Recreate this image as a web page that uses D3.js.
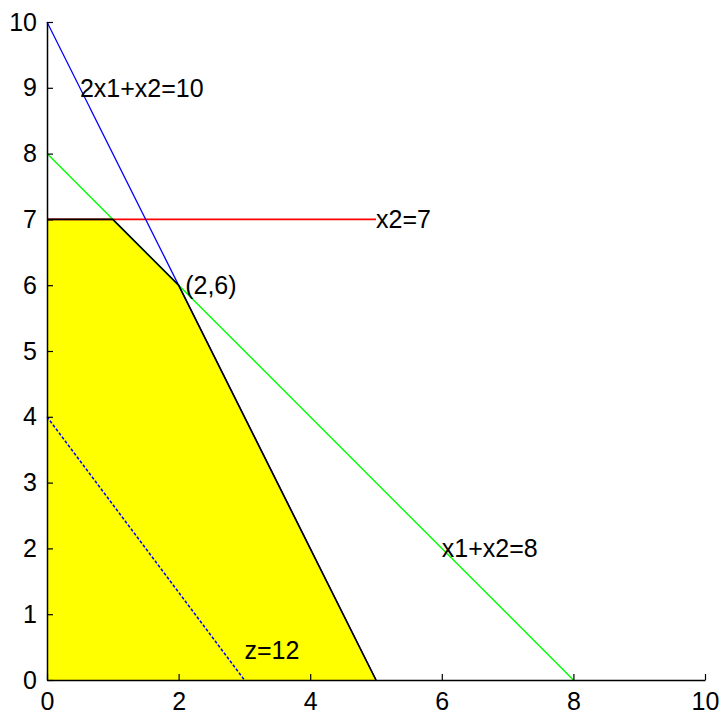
<!DOCTYPE html>
<html>
<head>
<meta charset="utf-8">
<script src="https://cdn.jsdelivr.net/npm/d3@7"></script>
<style>
  body { margin: 0; background: #fff; }
  text { font-family: "Liberation Sans", Arial, sans-serif; }
</style>
</head>
<body>
<div id="svgWrapper"></div>
<script>
// data
var xTicks = [0, 2, 4, 6, 8, 10];
var yTicks = [0, 1, 2, 3, 4, 5, 6, 7, 8, 9, 10];

// feasible region corners (x1, x2)
var region = [[0, 0], [0, 7], [1, 7], [2, 6], [5, 0]];

// constraint lines, endpoints
var lineRed   = [[0, 7], [5, 7]];      // x2 = 7
var lineGreen = [[0, 8], [8, 0]];      // x1 + x2 = 8
var lineBlue  = [[0, 10], [5, 0]];     // 2x1 + x2 = 10
var lineZ     = [[0, 4], [3, 0]];      // z = 12

// text labels
var labels = [
  {text: "2x1+x2=10", x: 0.5, y: 9},
  {text: "x2=7", x: 5, y: 7},
  {text: "(2,6)", x: 2.1, y: 6},
  {text: "x1+x2=8", x: 6, y: 2},
  {text: "z=12", x: 3, y: 0.45}
];

var fullWidth = 720, fullHeight = 714;
var padLeft = 47, padRight = 15, padTop = 22, padBottom = 34;

var svg = d3.select("#svgWrapper")
  .append("svg")
  .attr("width", fullWidth)
  .attr("height", fullHeight);

var xScale = d3.scaleLinear().domain([0, 10]).range([padLeft, fullWidth - padRight]);
var yScale = d3.scaleLinear().domain([0, 10]).range([fullHeight - padBottom, padTop]);

var line = d3.line()
  .x(function(d) { return xScale(d[0]); })
  .y(function(d) { return yScale(d[1]); });

// yellow region
svg.append("path")
  .attr("d", line(region) + "Z")
  .attr("fill", "#ffff00")
  .attr("stroke", "none");

// constraint lines
svg.append("path").attr("d", line(lineRed)).attr("stroke", "#ff0000").attr("stroke-width", 1.8).attr("fill", "none");
svg.append("path").attr("d", line(lineGreen)).attr("stroke", "#00ff00").attr("stroke-width", 1.4).attr("fill", "none");
svg.append("path").attr("d", line(lineBlue)).attr("stroke", "#0000ff").attr("stroke-width", 1.3).attr("fill", "none");
svg.append("path").attr("d", line(lineZ))
  .attr("stroke", "#0000ff").attr("stroke-width", 1.5)
  .attr("stroke-dasharray", "3,2").attr("fill", "none");

// black outline of the region
svg.append("path")
  .attr("d", line(region.slice(1)))
  .attr("fill", "none")
  .attr("stroke", "#000")
  .attr("stroke-width", 1.6);

// axes, ticks pointing inward
var xAxis = svg.append("g")
  .attr("transform", "translate(0," + yScale(0) + ")")
  .call(d3.axisBottom(xScale).tickValues(xTicks).tickSizeInner(-6).tickSizeOuter(0).tickPadding(12).tickFormat(d3.format("d")));
var yAxis = svg.append("g")
  .attr("transform", "translate(" + xScale(0) + ",0)")
  .call(d3.axisLeft(yScale).tickValues(yTicks).tickSizeInner(-6).tickSizeOuter(0).tickPadding(10).tickFormat(d3.format("d")));

[xAxis, yAxis].forEach(function(a) {
  a.select(".domain").attr("stroke", "#000").attr("stroke-width", 1.5);
  a.selectAll(".tick line").attr("stroke", "#000").attr("stroke-width", 1.2);
  a.selectAll("text").attr("font-size", 25).attr("fill", "#000")
    .attr("font-family", "Liberation Sans, Arial, sans-serif");
});
xAxis.selectAll("text").attr("dy", "0.71em");

// labels
svg.selectAll("text.lab")
  .data(labels)
  .enter().append("text")
  .attr("class", "lab")
  .attr("x", function(d) { return xScale(d.x); })
  .attr("y", function(d) { return yScale(d.y); })
  .attr("dy", "0.35em")
  .attr("font-size", 25)
  .attr("fill", "#000")
  .text(function(d) { return d.text; });
</script>
</body>
</html>
